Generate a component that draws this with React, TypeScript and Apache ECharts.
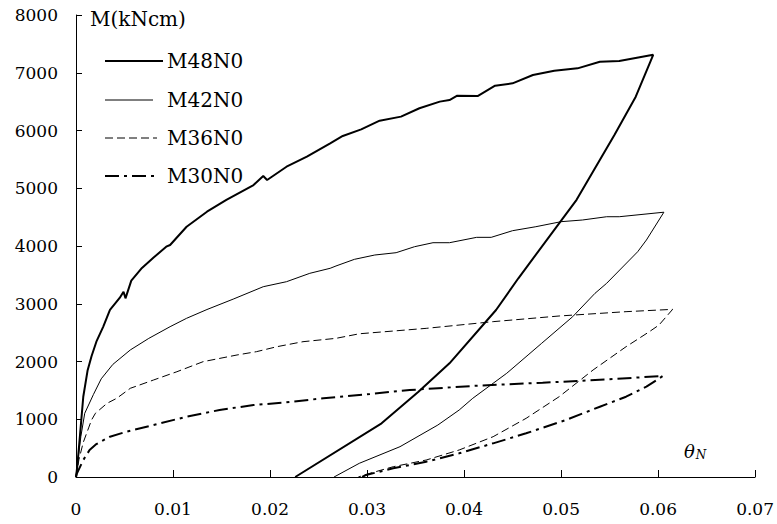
import React, { useEffect, useRef } from "react";
import * as echarts from "echarts";

const seriesNames = ["M48N0", "M42N0", "M36N0", "M30N0"];

const m48n0: [number, number][] = [
  [0, 0], [0.00013, 178], [0.0004, 700], [0.00075, 1390], [0.0012, 1850], [0.0016, 2090],
  [0.0021, 2343], [0.0028, 2600], [0.0035, 2892], [0.0045, 3100], [0.0049, 3209], [0.0051, 3094],
  [0.0057, 3400], [0.0068, 3620], [0.008, 3800], [0.0093, 3988], [0.0097, 4017], [0.0114, 4334],
  [0.0135, 4594], [0.0155, 4797], [0.0183, 5056], [0.0193, 5212], [0.0197, 5143], [0.0217, 5373],
  [0.0238, 5546], [0.0262, 5778], [0.0275, 5905], [0.0294, 6020], [0.0313, 6170], [0.0335, 6240],
  [0.0354, 6385], [0.0375, 6500], [0.0385, 6528], [0.0393, 6603], [0.0414, 6597], [0.0432, 6776],
  [0.045, 6817], [0.0471, 6961], [0.0493, 7036], [0.0517, 7076], [0.054, 7191], [0.056, 7203],
  [0.0595, 7310], [0.0577, 6585], [0.0555, 5922], [0.0516, 4800], [0.0498, 4393], [0.0456, 3441],
  [0.0433, 2892], [0.0385, 1969], [0.0353, 1477], [0.0315, 930], [0.0226, 0],
];

const m42n0: [number, number][] = [
  [0, 0], [0.0001, 178], [0.0005, 700], [0.0009, 1103], [0.0018, 1430], [0.0026, 1700],
  [0.0038, 1950], [0.0056, 2200], [0.0075, 2400], [0.0097, 2603], [0.0114, 2748], [0.0135, 2900],
  [0.0162, 3080], [0.0193, 3295], [0.0217, 3382], [0.0241, 3527], [0.0262, 3614], [0.0268, 3654],
  [0.0287, 3769], [0.0308, 3844], [0.033, 3884], [0.0349, 3988], [0.0368, 4057], [0.0385, 4057],
  [0.0413, 4150], [0.0428, 4150], [0.045, 4265], [0.0474, 4334], [0.05, 4421], [0.0522, 4450],
  [0.0547, 4507], [0.056, 4507], [0.0606, 4585], [0.0588, 4104], [0.0579, 3901], [0.0547, 3354],
  [0.0535, 3181], [0.0512, 2776], [0.048, 2315], [0.0466, 2113], [0.0444, 1796], [0.0409, 1363],
  [0.0395, 1160], [0.0373, 900], [0.0334, 525], [0.0292, 237], [0.0266, 0],
];

const m36n0: [number, number][] = [
  [0, 0], [0.0003, 300], [0.00075, 600], [0.0013, 850], [0.0016, 987], [0.002, 1103],
  [0.0032, 1276], [0.0042, 1363], [0.0056, 1536], [0.008, 1680], [0.0104, 1823], [0.0131, 1997],
  [0.0166, 2113], [0.0186, 2170], [0.0207, 2256], [0.0234, 2343], [0.0268, 2401], [0.0292, 2480],
  [0.0361, 2574], [0.043, 2690], [0.0498, 2788], [0.0567, 2863], [0.0615, 2903], [0.0601, 2632],
  [0.0591, 2516], [0.0567, 2256], [0.0533, 1853], [0.0498, 1390], [0.0464, 1016], [0.043, 698],
  [0.0395, 468], [0.0361, 294], [0.0327, 178], [0.0303, 64], [0.0291, 0],
];

const m30n0: [number, number][] = [
  [0, 0], [0.0001, 64], [0.00075, 294], [0.0014, 467], [0.0021, 570], [0.0035, 698],
  [0.0052, 784], [0.008, 900], [0.0114, 1044], [0.0148, 1160], [0.0183, 1247], [0.0213, 1287],
  [0.0255, 1363], [0.0303, 1437], [0.0344, 1506], [0.0413, 1581], [0.0481, 1633], [0.055, 1692],
  [0.0605, 1750], [0.0588, 1564], [0.0567, 1390], [0.054, 1217], [0.0505, 987], [0.0464, 757],
  [0.043, 583], [0.0395, 410], [0.0361, 265], [0.0327, 150], [0.0299, 35], [0.0295, 0],
];

const xMin = 0;
const xMax = 0.07;
const xStep = 0.01;
const yMin = 0;
const yMax = 8000;
const yStep = 1000;

const serif = "'DejaVu Serif', 'Liberation Serif', serif";

export default function App() {
  const ref = useRef<HTMLDivElement>(null);
  useEffect(() => {
    const chart = echarts.init(ref.current!, null, { renderer: "svg" });
    const styles = [
      { width: 2, type: "solid" as any },
      { width: 1, type: "solid" as any },
      { width: 1, type: [8, 4] as any },
      { width: 2, type: [14, 5, 3, 5] as any },
    ];
    const datas = [m48n0, m42n0, m36n0, m30n0];
    const legendY = [61, 100, 138, 176];
    const legendLen = [58, 48, 52, 52];
    chart.setOption({
      animation: false,
      backgroundColor: "#fff",
      grid: { left: 76, right: 21, top: 15, bottom: 47, containLabel: false },
      xAxis: {
        type: "value",
        min: xMin,
        max: xMax,
        interval: xStep,
        axisLine: { show: true, lineStyle: { color: "#000", width: 1 } },
        axisTick: { show: true, inside: true, length: 7, lineStyle: { color: "#000" } },
        splitLine: { show: false },
        axisLabel: {
          color: "#000",
          fontFamily: serif,
          fontSize: 17,
          margin: 23,
          formatter: (v: number) => (v === 0 ? "0" : v.toFixed(2)),
        },
      },
      yAxis: {
        type: "value",
        min: yMin,
        max: yMax,
        interval: yStep,
        axisLine: { show: true, lineStyle: { color: "#000", width: 1 } },
        axisTick: { show: true, inside: true, length: 6, lineStyle: { color: "#000" } },
        splitLine: { show: false },
        axisLabel: {
          color: "#000",
          fontFamily: serif,
          fontSize: 17,
          margin: 18,
          formatter: (v: number) => String(Math.round(v)),
        },
      },
      series: seriesNames.map((name, i) => ({
        name,
        type: "line",
        data: datas[i],
        showSymbol: false,
        symbol: "none",
        lineStyle: { color: "#000", width: styles[i].width, type: styles[i].type },
        silent: true,
      })),
      graphic: [
        {
          type: "text",
          left: 90,
          top: 9,
          style: { text: "M(kNcm)", fill: "#000", font: `20px ${serif}` },
        },
        {
          type: "text",
          x: 684,
          y: 451,
          style: {
            text: "{a|θ}{b|N}",
            verticalAlign: "middle",
            rich: {
              a: { fontFamily: serif, fontStyle: "italic", fontSize: 18, color: "#000" },
              b: { fontFamily: serif, fontStyle: "italic", fontSize: 12, color: "#000", padding: [8, 0, 0, 1] },
            },
          },
        },
        ...seriesNames.flatMap((name, i) => [
          {
            type: "line",
            shape: { x1: 105, y1: legendY[i], x2: 105 + legendLen[i], y2: legendY[i] },
            style: {
              stroke: "#000",
              lineWidth: styles[i].width,
              lineDash: Array.isArray(styles[i].type) ? styles[i].type : null,
            },
          },
          {
            type: "text",
            x: 167,
            y: legendY[i],
            style: { text: name, fill: "#000", font: `20px ${serif}`, verticalAlign: "middle" },
          },
        ]),
      ],
    });
    return () => chart.dispose();
  }, []);
  return (
    <div
      ref={ref}
      style={{ position: "fixed", left: 0, top: 0, width: 777, height: 524, background: "#fff" }}
    />
  );
}
